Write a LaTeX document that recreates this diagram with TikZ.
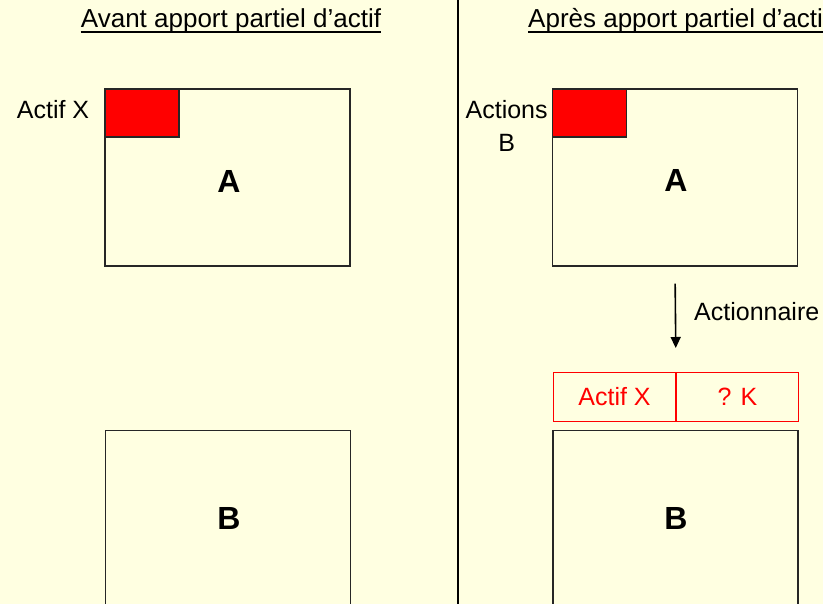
\documentclass[tikz,border=0pt]{standalone}
\usepackage{fontspec}
\setmainfont{Liberation Sans}
\usetikzlibrary{positioning,arrows.meta}
\definecolor{fond}{RGB}{255,255,225}
\begin{document}
\begin{tikzpicture}[
        x=1pt, y=-1pt,
        boite/.style={draw=black!85, line width=1.3pt, minimum width=245pt, inner sep=0pt},
        actif/.style={draw=black!85, fill=red, line width=1.3pt, minimum width=74pt, minimum height=48pt, inner sep=0pt},
        texte/.style={font=\fontsize{25}{33}\selectfont, inner sep=0pt},
        titre/.style={font=\fontsize{26}{30}\selectfont, inner sep=0pt},
        lettre/.style={font=\fontsize{32}{36}\selectfont\bfseries, inner sep=0pt},
        apport/.style={draw=red, text=red, line width=1pt, minimum width=122pt, minimum height=49pt, inner sep=0pt, font=\fontsize{25}{30}\selectfont}
    ]
    % Fond et cadre
    \clip (0,0) rectangle (823,604);
    \fill[fond] (0,0) rectangle (823,604);
    \draw[line width=1.2pt] (458,-5) -- (458,610);
    
    % Titres
    \node[titre, anchor=base] (avant) at (231,28) {Avant apport partiel d'actif};
    \node[titre, anchor=base west] (apres) at (528,28) {Après apport partiel d'actif};
    \draw[line width=1.5pt] ([yshift=-4pt]avant.base west) -- ([yshift=-4pt]avant.base east);
    \draw[line width=1.5pt] ([yshift=-4pt]apres.base west) -- ([yshift=-4pt]apres.base east);
    
    % Avant : societes A et B
    \node[boite, minimum height=177pt] (ga) at (227.5,177.5) {};
    \node[actif, anchor=north west] (gx) at (ga.north west) {};
    \node[texte, left=15pt of gx, yshift=3pt] (gxl) {Actif X};
    \node[lettre] (gal) at (229,181) {A};
    \node[boite, minimum height=200pt, anchor=north] (gb) at (228,430) {};
    \node[lettre] (gbl) at (229,518) {B};
    
    % Apres : societes A et B
    \node[boite, minimum height=177pt] (da) at (675,177.5) {};
    \node[actif, anchor=north west] (dx) at (da.north west) {};
    \node[texte, align=center, left=4pt of dx, yshift=-13pt] (dxl) {Actions\\B};
    \node[lettre] (dal) at (676,180) {A};
    \node[boite, minimum height=200pt, anchor=north] (db) at (675.5,430) {};
    \node[lettre] (dbl) at (676,518) {B};
    
    % Apport de l'actif
    \node[apport, anchor=north west] (kx) at (553,372) {Actif X};
    \node[apport, right=0pt of kx] (kk) {? K};
    \draw[-{Triangle[length=11pt,width=10pt]}, line width=1.6pt, shorten <=17pt, shorten >=24pt]
        (da.south) -- (kx.north east);
    \node[texte, anchor=west] (act) at (694,312) {Actionnaire};
    
    \end{tikzpicture}
\end{document}
